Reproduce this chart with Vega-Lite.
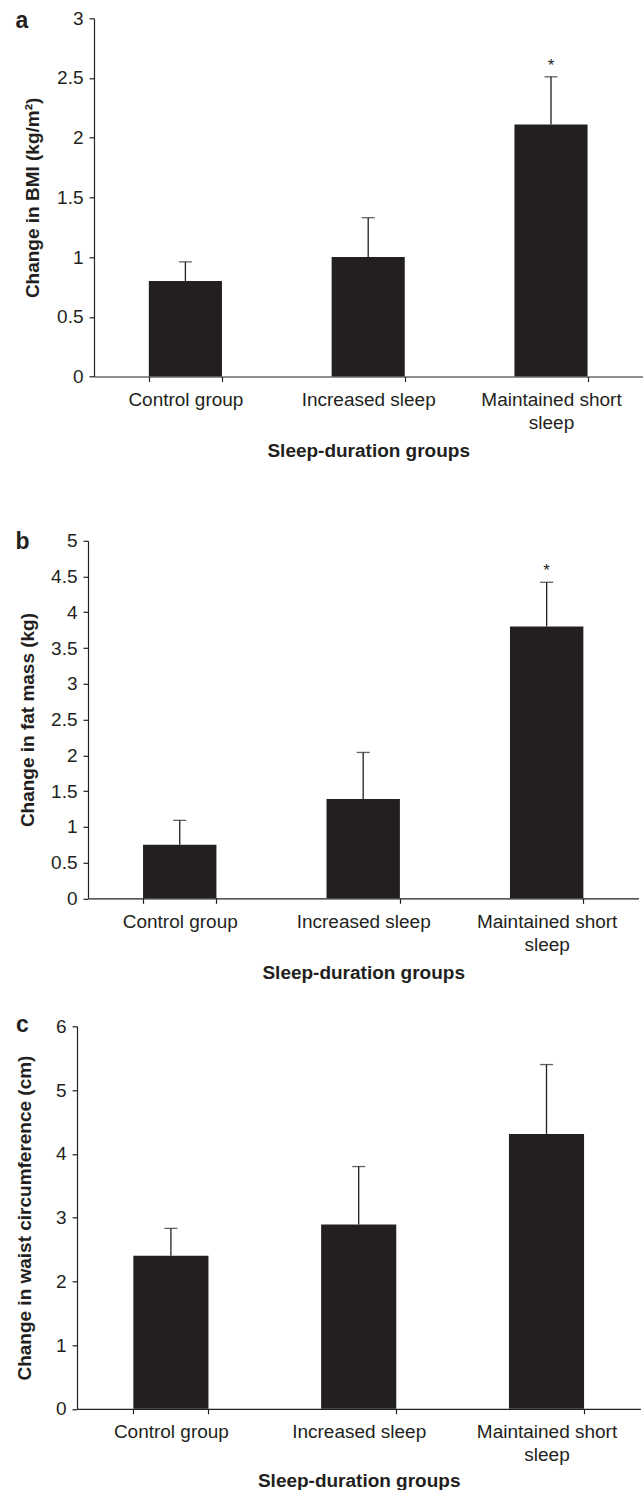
{
  "$schema": "https://vega.github.io/schema/vega-lite/v6.json",
  "background": "white",
  "padding": {"left": 13, "top": 9.3, "right": 0, "bottom": 0},
  "datasets": {
    "bars": [
      {"panel": "a", "group": "Control group", "mean": 0.8, "hi": 0.96, "sig": ""},
      {"panel": "a", "group": "Increased sleep", "mean": 1.0, "hi": 1.33, "sig": ""},
      {"panel": "a", "group": "Maintained short sleep", "mean": 2.11, "hi": 2.51, "sig": "*"},
      {"panel": "b", "group": "Control group", "mean": 0.75, "hi": 1.09, "sig": ""},
      {"panel": "b", "group": "Increased sleep", "mean": 1.39, "hi": 2.04, "sig": ""},
      {"panel": "b", "group": "Maintained short sleep", "mean": 3.8, "hi": 4.42, "sig": "*"},
      {"panel": "c", "group": "Control group", "mean": 2.4, "hi": 2.83, "sig": ""},
      {"panel": "c", "group": "Increased sleep", "mean": 2.89, "hi": 3.8, "sig": ""},
      {"panel": "c", "group": "Maintained short sleep", "mean": 4.31, "hi": 5.4, "sig": ""}
    ],
    "blank": [{"t": ""}]
  },
  "config": {
    "font": "Liberation Sans",
    "view": {"stroke": null},
    "axis": {
      "domainColor": "#231f20",
      "domainWidth": 1.2,
      "tickColor": "#231f20",
      "tickWidth": 1.2,
      "tickSize": 5,
      "labelColor": "#231f20",
      "titleColor": "#231f20",
      "labelFont": "Liberation Sans",
      "titleFont": "Liberation Sans",
      "labelFontSize": 19,
      "titleFontSize": 19,
      "titleFontWeight": "bold",
      "grid": false
    },
    "title": {
      "font": "Liberation Sans",
      "fontSize": 23,
      "fontWeight": "bold",
      "color": "#231f20",
      "anchor": "start",
      "frame": "group",
      "baseline": "alphabetic"
    }
  },
  "spacing": 69.5,
  "vconcat": [
    {
      "spacing": 1,
      "hconcat": [
        {"width": 1, "height": 1, "data": {"name": "blank"}, "mark": {"type": "text"}, "encoding": {"text": {"field": "t"}}},
        {
          "width": 548.4,
          "height": 358.2,
          "title": {"text": "a", "dx": -78.6, "offset": -23.4},
          "data": {"name": "bars"},
          "transform": [{"filter": "datum.panel == 'a'"}],
          "encoding": {
            "x": {
              "field": "group", "type": "nominal", "sort": null,
              "scale": {"paddingInner": 0.6, "paddingOuter": 0.3},
              "axis": {"title": "Sleep-duration groups", "labelAngle": 0, "tickBand": "extent", "labelPadding": 9, "labelLineHeight": 23, "titlePadding": 9, "labelLimit": 300, "labelOverlap": false,
                "labelExpr": "datum.label == 'Maintained short sleep' ? ['Maintained short', 'sleep'] : datum.label"}
            }
          },
          "layer": [
            {
              "mark": {"type": "bar", "color": "#231f20"},
              "encoding": {
                "y": {"field": "mean", "type": "quantitative", "scale": {"domain": [0, 3], "nice": false},
                  "axis": {"title": "Change in BMI (kg/m²)", "values": [0, 0.5, 1, 1.5, 2, 2.5, 3], "format": "~g", "labelPadding": 6, "titlePadding": 14}}
              }
            },
            {
              "mark": {"type": "rule", "color": "#231f20", "strokeWidth": 1.3},
              "encoding": {
                "y": {"field": "mean", "type": "quantitative", "scale": {"domain": [0, 3], "nice": false},
                  "axis": {"title": "Change in BMI (kg/m²)", "values": [0, 0.5, 1, 1.5, 2, 2.5, 3], "format": "~g", "labelPadding": 6, "titlePadding": 14}},
                "y2": {"field": "hi"}
              }
            },
            {
              "mark": {"type": "tick", "color": "#231f20", "size": 13, "thickness": 1.3},
              "encoding": {"y": {"field": "hi", "type": "quantitative", "scale": {"domain": [0, 3], "nice": false},
                  "axis": {"title": "Change in BMI (kg/m²)", "values": [0, 0.5, 1, 1.5, 2, 2.5, 3], "format": "~g", "labelPadding": 6, "titlePadding": 14}}}
            },
            {
              "mark": {"type": "text", "color": "#231f20", "fontSize": 17, "baseline": "alphabetic", "dy": -6},
              "encoding": {"y": {"field": "hi", "type": "quantitative", "scale": {"domain": [0, 3], "nice": false},
                  "axis": {"title": "Change in BMI (kg/m²)", "values": [0, 0.5, 1, 1.5, 2, 2.5, 3], "format": "~g", "labelPadding": 6, "titlePadding": 14}}, "text": {"field": "sig"}}
            }
          ]
        }
      ]
    },
    {
      "spacing": 31.5,
      "vconcat": [
        {
          "spacing": 1,
          "hconcat": [
            {"width": 1, "height": 1, "data": {"name": "blank"}, "mark": {"type": "text"}, "encoding": {"text": {"field": "t"}}},
            {
              "width": 550.4,
              "height": 357.5,
              "title": {"text": "b", "dx": -72.5, "offset": -22},
              "data": {"name": "bars"},
              "transform": [{"filter": "datum.panel == 'b'"}],
              "encoding": {
                "x": {
                  "field": "group", "type": "nominal", "sort": null,
                  "scale": {"paddingInner": 0.6, "paddingOuter": 0.3},
                  "axis": {"title": "Sleep-duration groups", "labelAngle": 0, "tickBand": "extent", "labelPadding": 9, "labelLineHeight": 23, "titlePadding": 9, "labelLimit": 300, "labelOverlap": false,
                    "labelExpr": "datum.label == 'Maintained short sleep' ? ['Maintained short', 'sleep'] : datum.label"}
                }
              },
              "layer": [
                {
                  "mark": {"type": "bar", "color": "#231f20"},
                  "encoding": {
                    "y": {"field": "mean", "type": "quantitative", "scale": {"domain": [0, 5], "nice": false},
                      "axis": {"title": "Change in fat mass (kg)", "values": [0, 0.5, 1, 1.5, 2, 2.5, 3, 3.5, 4, 4.5, 5], "format": "~g", "labelPadding": 6, "titlePadding": 13}}
                  }
                },
                {
                  "mark": {"type": "rule", "color": "#231f20", "strokeWidth": 1.3},
                  "encoding": {
                    "y": {"field": "mean", "type": "quantitative", "scale": {"domain": [0, 5], "nice": false},
                      "axis": {"title": "Change in fat mass (kg)", "values": [0, 0.5, 1, 1.5, 2, 2.5, 3, 3.5, 4, 4.5, 5], "format": "~g", "labelPadding": 6, "titlePadding": 13}},
                    "y2": {"field": "hi"}
                  }
                },
                {
                  "mark": {"type": "tick", "color": "#231f20", "size": 13, "thickness": 1.3},
                  "encoding": {"y": {"field": "hi", "type": "quantitative", "scale": {"domain": [0, 5], "nice": false},
                      "axis": {"title": "Change in fat mass (kg)", "values": [0, 0.5, 1, 1.5, 2, 2.5, 3, 3.5, 4, 4.5, 5], "format": "~g", "labelPadding": 6, "titlePadding": 13}}}
                },
                {
                  "mark": {"type": "text", "color": "#231f20", "fontSize": 17, "baseline": "alphabetic", "dy": -6},
                  "encoding": {"y": {"field": "hi", "type": "quantitative", "scale": {"domain": [0, 5], "nice": false},
                      "axis": {"title": "Change in fat mass (kg)", "values": [0, 0.5, 1, 1.5, 2, 2.5, 3, 3.5, 4, 4.5, 5], "format": "~g", "labelPadding": 6, "titlePadding": 13}}, "text": {"field": "sig"}}
                }
              ]
            }
          ]
        },
        {
          "spacing": 1,
          "hconcat": [
            {"width": 1, "height": 1, "data": {"name": "blank"}, "mark": {"type": "text"}, "encoding": {"text": {"field": "t"}}},
            {
              "width": 563.4,
              "height": 382.5,
              "title": {"text": "c", "dx": -61, "offset": -20},
              "data": {"name": "bars"},
              "transform": [{"filter": "datum.panel == 'c'"}],
              "encoding": {
                "x": {
                  "field": "group", "type": "nominal", "sort": null,
                  "scale": {"paddingInner": 0.6, "paddingOuter": 0.3},
                  "axis": {"title": "Sleep-duration groups", "labelAngle": 0, "tickBand": "extent", "labelPadding": 9, "labelLineHeight": 23, "titlePadding": 6.5, "labelLimit": 300, "labelOverlap": false,
                    "labelExpr": "datum.label == 'Maintained short sleep' ? ['Maintained short', 'sleep'] : datum.label"}
                }
              },
              "layer": [
                {
                  "mark": {"type": "bar", "color": "#231f20"},
                  "encoding": {
                    "y": {"field": "mean", "type": "quantitative", "scale": {"domain": [0, 6], "nice": false},
                      "axis": {"title": "Change in waist circumference (cm)", "values": [0, 1, 2, 3, 4, 5, 6], "format": "~g", "labelPadding": 6, "titlePadding": 21}}
                  }
                },
                {
                  "mark": {"type": "rule", "color": "#231f20", "strokeWidth": 1.3},
                  "encoding": {
                    "y": {"field": "mean", "type": "quantitative", "scale": {"domain": [0, 6], "nice": false},
                      "axis": {"title": "Change in waist circumference (cm)", "values": [0, 1, 2, 3, 4, 5, 6], "format": "~g", "labelPadding": 6, "titlePadding": 21}},
                    "y2": {"field": "hi"}
                  }
                },
                {
                  "mark": {"type": "tick", "color": "#231f20", "size": 13, "thickness": 1.3},
                  "encoding": {"y": {"field": "hi", "type": "quantitative", "scale": {"domain": [0, 6], "nice": false},
                      "axis": {"title": "Change in waist circumference (cm)", "values": [0, 1, 2, 3, 4, 5, 6], "format": "~g", "labelPadding": 6, "titlePadding": 21}}}
                }
              ]
            }
          ]
        }
      ]
    }
  ]
}
